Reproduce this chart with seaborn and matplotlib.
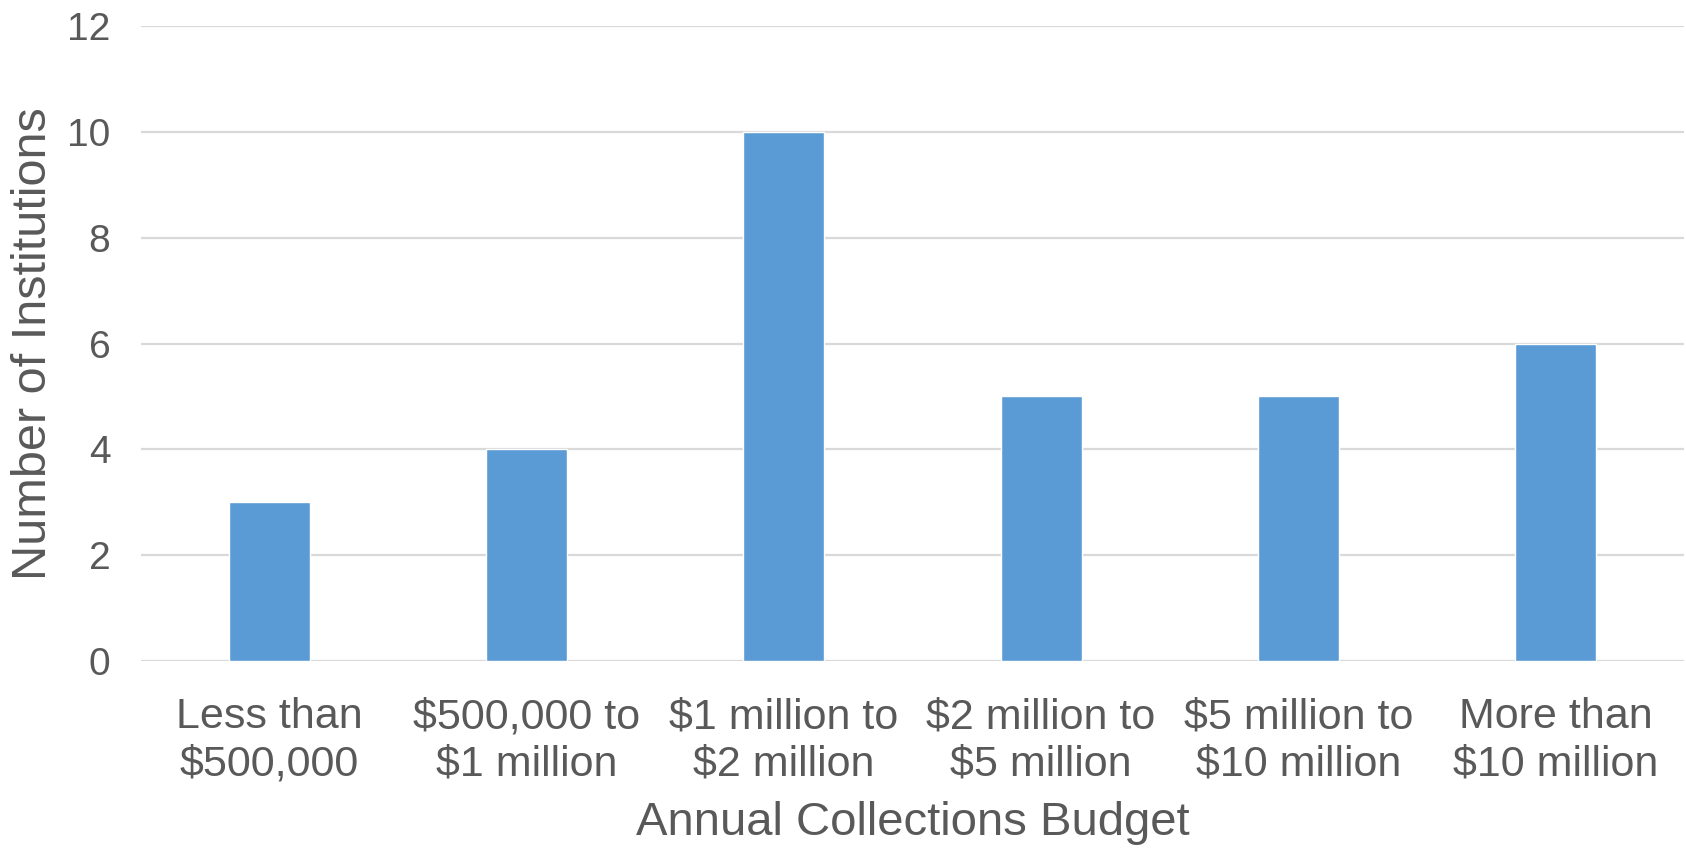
import numpy as np
import pandas as pd
import seaborn as sns
from matplotlib import pyplot as plt

# budget brackets and counts
budgets = ['Less than\n$500,000', '$500,000 to\n$1 million', '$1 million to\n$2 million',
           '$2 million to\n$5 million', '$5 million to\n$10 million', 'More than\n$10 million']
counts = [3, 4, 10, 5, 5, 6]
yticks = [0, 2, 4, 6, 8, 10, 12]

df = pd.DataFrame({'budget': budgets, 'count': counts})

sns.set_style('white')
plt.rcParams['font.family'] = ['Liberation Sans', 'DejaVu Sans']

fig = plt.figure(figsize=(16.86, 8.48), dpi=100)
ax = fig.add_axes([141/1686, 187/848, 1543/1686, 635/848])

sns.barplot(data=df, x='budget', y='count', color='#5B9BD5', width=0.315,
            saturation=1, ax=ax, zorder=3)

ax.set_ylim(0, 12)
ax.set_yticks(yticks)
ax.yaxis.grid(True, color='#D9D9D9', linewidth=1.6, zorder=0)
ax.set_axisbelow(True)
for s in ax.spines.values():
    s.set_visible(False)

gray = '#595959'
ax.tick_params(axis='y', length=0, pad=22, labelsize=28, labelcolor=gray)
ax.tick_params(axis='x', length=0, pad=26, labelsize=31, labelcolor=gray)
for t in ax.get_xticklabels():
    t.set_linespacing(1.24)

ax.set_xlabel('Annual Collections Budget', fontsize=34, color=gray, labelpad=12)
ax.set_ylabel('Number of Institutions', fontsize=35, color=gray, labelpad=8)

fig.savefig('out.png', dpi=100)
